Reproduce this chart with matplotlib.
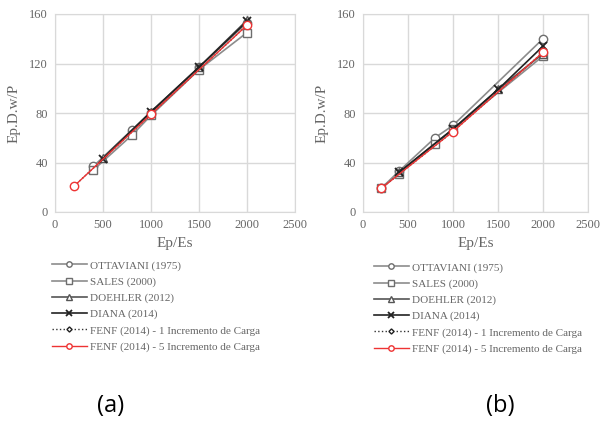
import matplotlib.pyplot as plt

# Ep/Es values and Ep.D.w/P results, panel (a)
a_ottaviani_x = [400, 800, 1000, 1500, 2000]
a_ottaviani_y = [37, 66, 80, 117, 153]
a_sales_x = [400, 800, 1000, 1500, 2000]
a_sales_y = [34, 62, 78, 115, 145]
a_doehler_x = [500, 1000, 1500, 2000]
a_doehler_y = [44, 81, 117, 155]
a_diana_x = [500, 1000, 1500, 2000]
a_diana_y = [43, 81, 117, 154]
a_fenf1_x = [200, 1000, 2000]
a_fenf1_y = [21, 79, 151]
a_fenf5_x = [200, 1000, 2000]
a_fenf5_y = [21, 79, 151]

# panel (b)
b_ottaviani_x = [200, 400, 800, 1000, 2000]
b_ottaviani_y = [19, 33, 60, 70, 140]
b_sales_x = [200, 400, 800, 1000, 2000]
b_sales_y = [19, 31, 55, 67, 126]
b_doehler_x = [400, 1000, 1500, 2000]
b_doehler_y = [32, 67, 99, 128]
b_diana_x = [400, 1000, 1500, 2000]
b_diana_y = [32, 67, 99, 134]
b_fenf1_x = [200, 1000, 2000]
b_fenf1_y = [19, 65, 129]
b_fenf5_x = [200, 1000, 2000]
b_fenf5_y = [19, 65, 129]

labels = ['OTTAVIANI (1975)', 'SALES (2000)', 'DOEHLER (2012)', 'DIANA (2014)',
          'FENF (2014) - 1 Incremento de Carga', 'FENF (2014) - 5 Incremento de Carga']

x_ticks = [0, 500, 1000, 1500, 2000, 2500]
y_ticks = [0, 40, 80, 120, 160]

plt.rcParams['font.family'] = 'Liberation Serif'
txt = '#666666'

fig = plt.figure(figsize=(6.02, 4.21), dpi=100)

# line styles for each series
styles = [
    dict(color='#8c8c8c', ls='-', marker='o', mfc='white', mec='#6e6e6e', ms=6, lw=1.2),
    dict(color='#8c8c8c', ls='-', marker='s', mfc='white', mec='#6e6e6e', ms=6, lw=1.2),
    dict(color='#555555', ls='-', marker='^', mfc='white', mec='#555555', ms=6, lw=1.2),
    dict(color='#222222', ls='-', marker='x', mec='#222222', ms=6, lw=1.2, mew=1.3),
    dict(color='#333333', ls=':', marker='D', mfc='white', mec='#222222', ms=4, lw=1.0),
    dict(color='#ee3333', ls='-', marker='o', mfc='white', mec='#ee3333', ms=6, lw=1.0),
]


def draw_panel(rect, series, legend_pos, tag, tag_x):
    ax = fig.add_axes(rect)
    handles = []
    for (xs, ys), st in zip(series, styles):
        h, = ax.plot(xs, ys, **st)
        handles.append(h)
    ax.set_xlim(0, 2500)
    ax.set_ylim(0, 160)
    ax.set_xticks(x_ticks)
    ax.set_yticks(y_ticks)
    ax.grid(True, color='#d9d9d9', lw=1)
    ax.set_axisbelow(True)
    for s in ax.spines.values():
        s.set_color('#d9d9d9')
    ax.tick_params(length=0, labelsize=9, colors=txt, pad=5)
    ax.set_xlabel('Ep/Es', fontsize=11, color=txt, labelpad=4)
    ax.set_ylabel('Ep.D.w/P', fontsize=11, color=txt, labelpad=6)
    fig.legend(handles, labels, loc='upper left', bbox_to_anchor=legend_pos,
               frameon=False, fontsize=8, labelcolor=txt, handlelength=3.2,
               labelspacing=0.56, handletextpad=0.3, borderpad=0, markerscale=0.65)
    fig.text(tag_x, 0.008, tag, fontsize=17, family='Open Sans', ha='center', va='bottom')


draw_panel([55 / 602, 1 - 212 / 421, 240 / 602, 198 / 421],
           [(a_ottaviani_x, a_ottaviani_y), (a_sales_x, a_sales_y),
            (a_doehler_x, a_doehler_y), (a_diana_x, a_diana_y),
            (a_fenf1_x, a_fenf1_y), (a_fenf5_x, a_fenf5_y)],
           (46 / 602, 1 - 255 / 421), '(a)', 111 / 602)

draw_panel([363 / 602, 1 - 212 / 421, 225 / 602, 198 / 421],
           [(b_ottaviani_x, b_ottaviani_y), (b_sales_x, b_sales_y),
            (b_doehler_x, b_doehler_y), (b_diana_x, b_diana_y),
            (b_fenf1_x, b_fenf1_y), (b_fenf5_x, b_fenf5_y)],
           (368 / 602, 1 - 257 / 421), '(b)', 500 / 602)

plt.savefig('out.png', dpi=100)
